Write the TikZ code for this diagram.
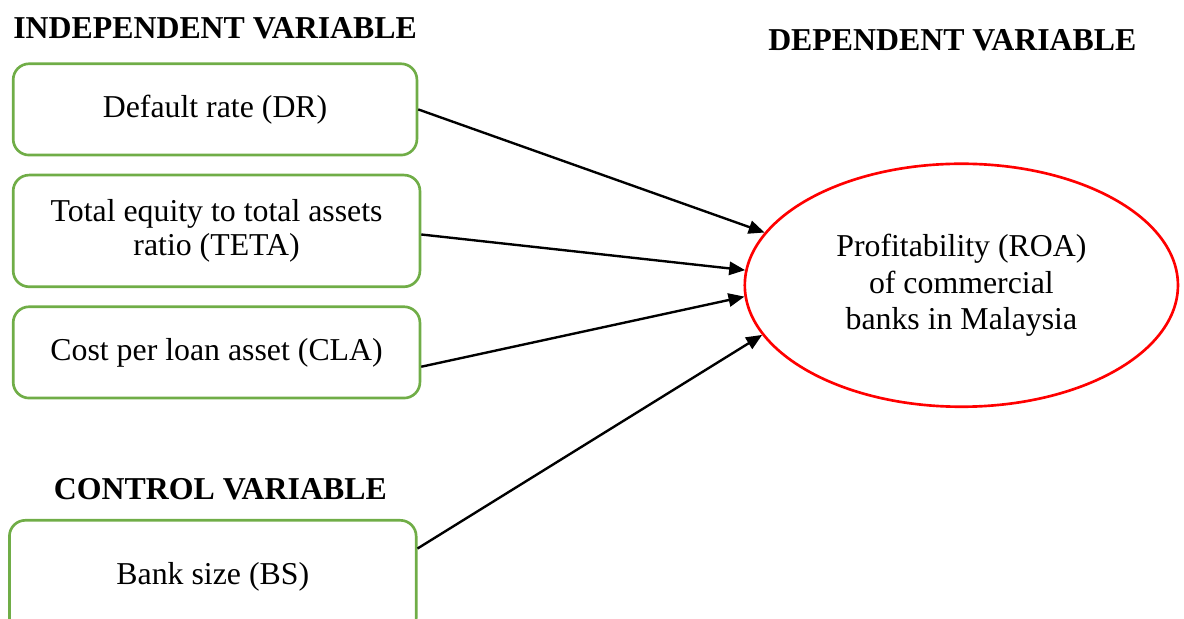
\documentclass[tikz,border=0pt]{standalone}
\usepackage{fontspec}
\setmainfont{Liberation Serif}
\usetikzlibrary{shapes.geometric,arrows.meta}

\definecolor{boxgreen}{RGB}{112,173,71}

\begin{document}
\begin{tikzpicture}[every node/.style={font=\fontsize{12}{12.5}\selectfont},
    varbox/.style={draw=boxgreen, line width=1pt, rounded corners=6pt, align=center, inner sep=0pt},
    heading/.style={font=\fontsize{12}{14}\selectfont\bfseries},
    link/.style={-{Triangle[length=6pt,width=5pt]}, line width=0.9pt}]
    \useasboundingbox (0,0) rectangle (15.69,8.19);

    % headings
    \node[heading] (indep) at (2.85,7.82) {INDEPENDENT VARIABLE};
    \node[heading] (dep) at (12.62,7.66) {DEPENDENT VARIABLE};
    \node[heading] (ctrl) at (2.92,1.71) {CONTROL VARIABLE};

    % boxes
    \node[varbox, minimum width=5.35cm, minimum height=1.21cm] (dr) at (2.85,6.74) {Default rate (DR)};
    \node[varbox, minimum width=5.39cm, minimum height=1.48cm] (teta) at (2.87,5.13) {Total equity to total assets\\ratio (TETA)};
    \node[varbox, minimum width=5.39cm, minimum height=1.21cm] (cla) at (2.87,3.52) {Cost per loan asset (CLA)};
    \node[varbox, minimum width=5.39cm, minimum height=1.51cm] (bs) at (2.82,0.54) {Bank size (BS)};

    % dependent
    \node[ellipse, draw=red, line width=1pt, inner sep=0pt, minimum width=5.74cm, minimum height=3.22cm,
          align=center, font=\fontsize{12}{13.8}\selectfont] (roa) at (12.74,4.41)
          {Profitability (ROA)\\of commercial\\banks in Malaysia};

    % arrows
    \draw[link] (dr.east) -- (roa.165.5);
    \draw[link] (teta.-1.4) -- (roa.176.4);
    \draw[link] (cla.-4.6) -- (roa.183.6);
    \draw[link] (bs.8.1) -- (roa.194.7);
\end{tikzpicture}
\end{document}
